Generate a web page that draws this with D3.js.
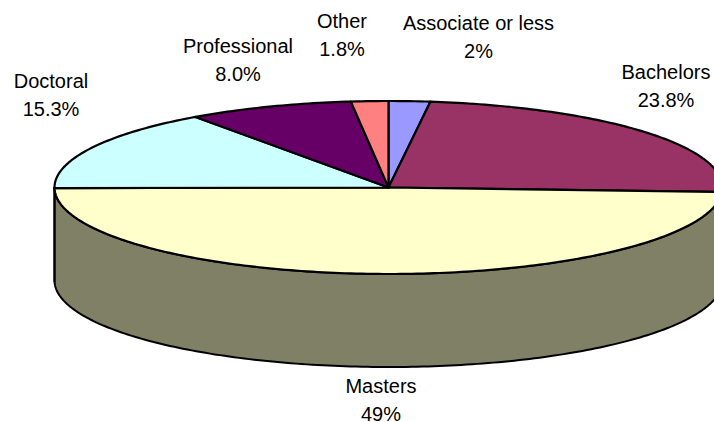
<!DOCTYPE html>
<html>
<head>
<meta charset="utf-8">
<script src="https://cdn.jsdelivr.net/npm/d3@7"></script>
<style>
  html, body { margin: 0; padding: 0; background: #fff; overflow: hidden; }
  svg { display: block; }
  text { font-family: "Liberation Sans", Arial, sans-serif; font-size: 20px; fill: #000; }
</style>
</head>
<body>
<svg id="chart" width="714" height="422"></svg>
<script>
const categories = ["Associate or less", "Bachelors", "Masters", "Doctoral", "Professional", "Other"];
const shares = [2, 23.8, 49, 15.3, 8.0, 1.8];
const shareLabels = ["2%", "23.8%", "49%", "15.3%", "8.0%", "1.8%"];
const topColors = ["#9999ff", "#993366", "#ffffcc", "#ccffff", "#660066", "#ff8080"];
const sideColors = ["#4d4d80", "#4d1a33", "#808066", "#668080", "#330033", "#804040"];

// layout of the tilted pie
const cx = 388.5, cy = 187.5, rx = 334, ry = 86.5, depth = 93;
const labelX = [478.5, 666, 381, 51, 238, 342];
const labelY = [30, 79, 393, 88, 53, 28];
const lineGap = 28;

const svg = d3.select("#chart");

// project pie angle (0 = 12 o'clock, clockwise) onto the ellipse
const px = d3.scaleLinear().domain([-1, 1]).range([cx - rx, cx + rx]);
const py = d3.scaleLinear().domain([-1, 1]).range([cy - ry, cy + ry]);
const rim = a => [px(Math.sin(a)), py(-Math.cos(a))];

const pie = d3.pie().sort(null).value(d => d).startAngle(0).endAngle(2 * Math.PI);
const arcs = pie(shares);
const line = d3.line();

function sweep(a0, a1) {
  const n = Math.max(2, Math.ceil((a1 - a0) * 60));
  return d3.range(n + 1).map(i => rim(a0 + (a1 - a0) * i / n));
}

// side wall, only the front half of the rim can be seen
arcs.forEach((d, i) => {
  const a0 = Math.max(d.startAngle, Math.PI / 2);
  const a1 = Math.min(d.endAngle, 3 * Math.PI / 2);
  if (a1 <= a0) return;
  const upper = sweep(a0, a1);
  const lower = upper.map(p => [p[0], p[1] + depth]).reverse();
  svg.append("path")
    .attr("d", line(upper.concat(lower)) + "Z")
    .attr("fill", sideColors[i])
    .attr("stroke", "#000")
    .attr("stroke-width", 2)
    .attr("stroke-linejoin", "round");
});

// top face
svg.selectAll("path.slice")
  .data(arcs)
  .enter()
  .append("path")
  .attr("class", "slice")
  .attr("d", d => line([[cx, cy]].concat(sweep(d.startAngle, d.endAngle))) + "Z")
  .attr("fill", (d, i) => topColors[i])
  .attr("stroke", "#000")
  .attr("stroke-width", 2.2)
  .attr("stroke-linejoin", "round");

// labels
categories.forEach((c, i) => {
  const t = svg.append("text").attr("text-anchor", "middle");
  t.append("tspan").attr("x", labelX[i]).attr("y", labelY[i]).text(c);
  t.append("tspan").attr("x", labelX[i]).attr("y", labelY[i] + lineGap).text(shareLabels[i]);
});
</script>
</body>
</html>
